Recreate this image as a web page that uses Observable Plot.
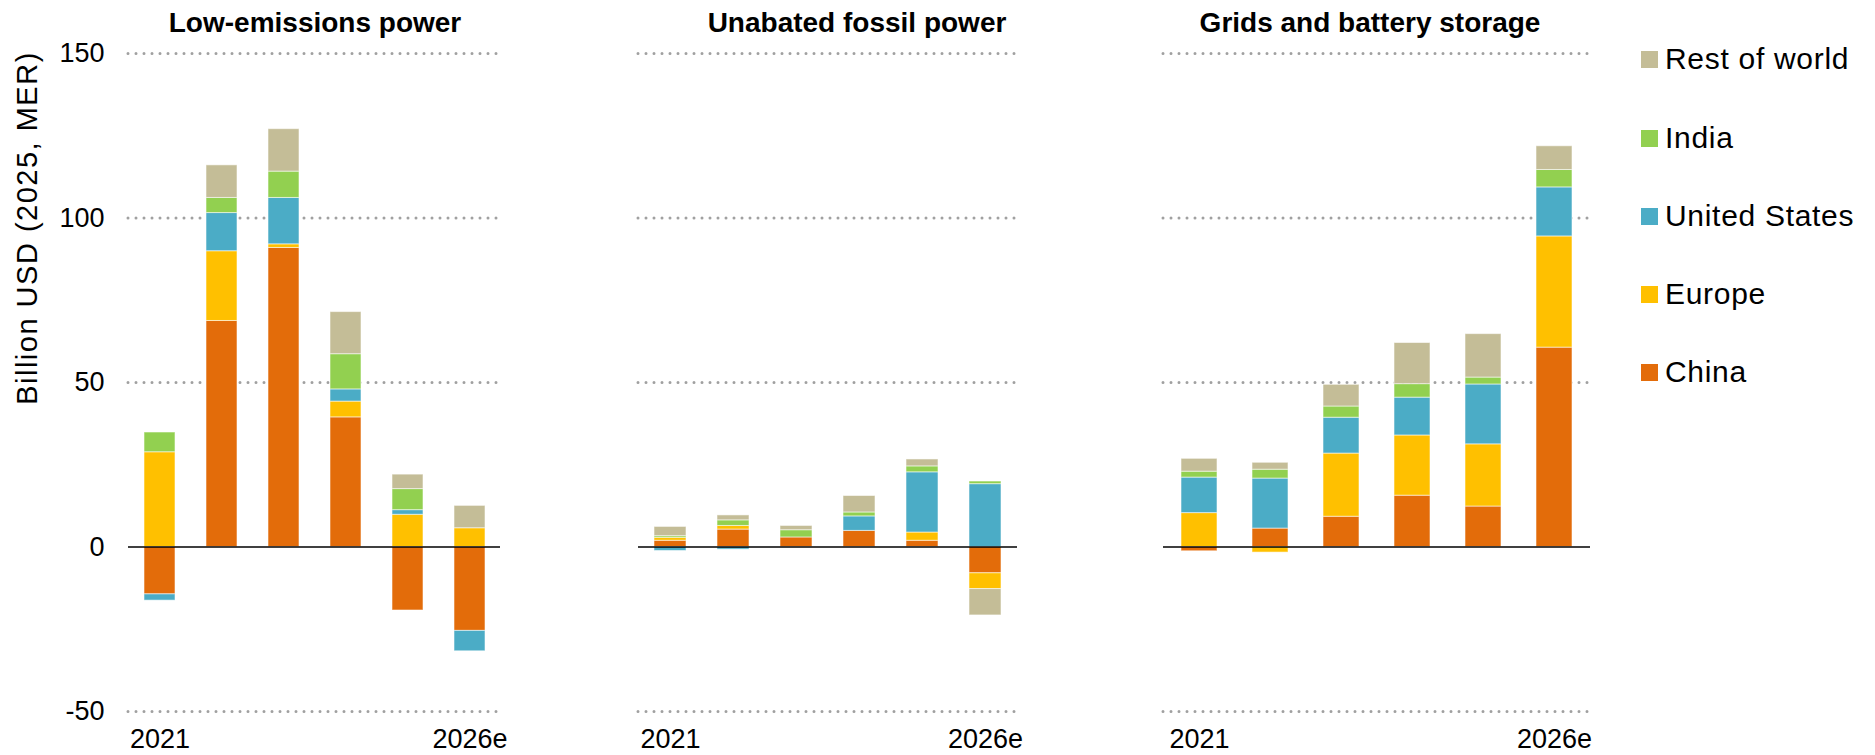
<!DOCTYPE html>
<html>
<head>
<meta charset="utf-8">
<script src="https://cdn.jsdelivr.net/npm/d3@7"></script>
<script src="https://cdn.jsdelivr.net/npm/@observablehq/plot@0.6"></script>
<style>
  html, body { margin: 0; padding: 0; background: #fff; overflow: hidden; }
  #root { position: relative; width: 1875px; height: 755px; font-family: "Liberation Sans", Arial, sans-serif; color: #000; }
  .panel { position: absolute; top: 0; }
  .title { position: absolute; top: 9px; font-weight: bold; font-size: 28px; line-height: 28px; white-space: nowrap; transform: translateX(-50%); }
  .ylabel { position: absolute; left: 27px; top: 228px; font-size: 29px; line-height: 29px; letter-spacing: 1.5px; white-space: nowrap; transform: translate(-50%, -50%) rotate(-90deg); }
  .leg { position: absolute; left: 1641px; height: 30px; display: flex; align-items: center; font-size: 30px; line-height: 30px; letter-spacing: 0.7px; white-space: nowrap; }
  .sw { width: 17px; height: 17px; margin-right: 7px; flex: none; }
</style>
</head>
<body>
<div id="root"></div>
<script>
// ---- Data ----
const years = ["2021", "2022", "2023", "2024", "2025", "2026e"];
const regions = ["China", "Europe", "United States", "India", "Rest of world"];
const regionColors = ["#E36C0A", "#FFC000", "#4BACC6", "#92D050", "#C4BD97"];
const panelTitles = ["Low-emissions power", "Unabated fossil power", "Grids and battery storage"];
const yTicks = [-50, 0, 50, 100, 150];
const yLabel = "Billion USD (2025, MER)";

// Low-emissions power
const lowChina  = [-14.4, 68.7, 90.9, 39.4, -19.3, -25.5];
const lowEurope = [28.8, 21.2, 1.1, 4.8, 9.8, 5.7];
const lowUS     = [-1.9, 11.6, 14.1, 3.7, 1.4, -6.2];
const lowIndia  = [6.0, 4.6, 8.0, 10.7, 6.4, 0];
const lowRest   = [0, 9.9, 12.9, 12.8, 4.4, 6.8];

// Unabated fossil power
const fosChina  = [1.9, 5.3, 2.9, 4.9, 1.9, -8.0];
const fosEurope = [0.9, 1.1, 0, 0, 2.5, -4.8];
const fosUS     = [-1.2, -0.8, 0, 4.4, 18.3, 19.1];
const fosIndia  = [0.5, 1.7, 2.2, 1.2, 1.8, 0.8];
const fosRest   = [2.8, 1.5, 1.3, 5.0, 2.1, -8.0];

// Grids and battery storage
const grdChina  = [-1.3, 5.6, 9.2, 15.6, 12.3, 60.6];
const grdEurope = [10.3, -1.7, 19.2, 18.3, 18.9, 33.8];
const grdUS     = [10.8, 15.2, 10.9, 11.5, 18.2, 14.9];
const grdIndia  = [1.8, 2.7, 3.4, 4.1, 2.1, 5.3];
const grdRest   = [3.9, 2.1, 6.6, 12.5, 13.2, 7.2];

// ---- Build tables ----
function table(series) {
  const rows = [];
  regions.forEach((r, i) => {
    series[i].forEach((v, j) => {
      if (v !== 0) rows.push({year: years[j], region: r, value: v});
    });
  });
  return rows;
}
const panelData = [
  table([lowChina, lowEurope, lowUS, lowIndia, lowRest]),
  table([fosChina, fosEurope, fosUS, fosIndia, fosRest]),
  table([grdChina, grdEurope, grdUS, grdIndia, grdRest])
];

// layout of each panel svg: [left, width, marginLeft, marginRight]
const layout = [
  [0, 560, 128, 60],
  [560, 560, 78, 103],
  [1120, 500, 43, 30]
];
const titleCenters = [315, 857, 1370];

const root = document.getElementById("root");

panelData.forEach((data, k) => {
  const [left, width, ml, mr] = layout[k];
  const marks = [
    Plot.ruleY(yTicks.filter(d => d !== 0), {stroke: "#a0a0a0", strokeWidth: 3, strokeDasharray: "0 8", strokeLinecap: "round"}),
    Plot.barY(data, Plot.stackY({order: regions}, {
      x: "year", y: "value", fill: "region",
      stroke: "#ffffff", strokeOpacity: 0.55, strokeWidth: 1
    })),
    Plot.ruleY([0], {stroke: "#000", strokeWidth: 1.5}),
    Plot.axisX({ticks: [years[0], years[years.length - 1]], tickSize: 0, tickPadding: 17, fontSize: 27, label: null})
  ];
  if (k === 0) {
    marks.push(Plot.axisY({ticks: yTicks, tickSize: 0, tickPadding: 24, tickFormat: d => String(d), fontSize: 27, label: null}));
  }
  const chart = Plot.plot({
    width, height: 755,
    marginLeft: ml, marginRight: mr, marginTop: 53, marginBottom: 44,
    style: {fontFamily: "Liberation Sans, Arial, sans-serif", fontSize: "27px", background: "transparent", color: "#000", maxWidth: "none"},
    x: {domain: years, paddingInner: 0.5, paddingOuter: 0.25, axis: null, label: null},
    y: {domain: [-50, 150], axis: null, label: null},
    color: {domain: regions, range: regionColors},
    marks
  });
  chart.classList.add("panel");
  chart.style.left = left + "px";
  root.appendChild(chart);

  const t = document.createElement("div");
  t.className = "title";
  t.style.left = titleCenters[k] + "px";
  t.textContent = panelTitles[k];
  root.appendChild(t);
});

const yl = document.createElement("div");
yl.className = "ylabel";
yl.textContent = yLabel;
root.appendChild(yl);

// Legend (top to bottom: reverse stacking order)
const legendCenters = [59, 138, 216, 294, 372];
regions.slice().reverse().forEach((r, i) => {
  const item = document.createElement("div");
  item.className = "leg";
  item.style.top = (legendCenters[i] - 15) + "px";
  const sw = document.createElement("span");
  sw.className = "sw";
  sw.style.background = regionColors[regions.indexOf(r)];
  const tx = document.createElement("span");
  tx.textContent = r;
  item.appendChild(sw);
  item.appendChild(tx);
  root.appendChild(item);
});
</script>
</body>
</html>
